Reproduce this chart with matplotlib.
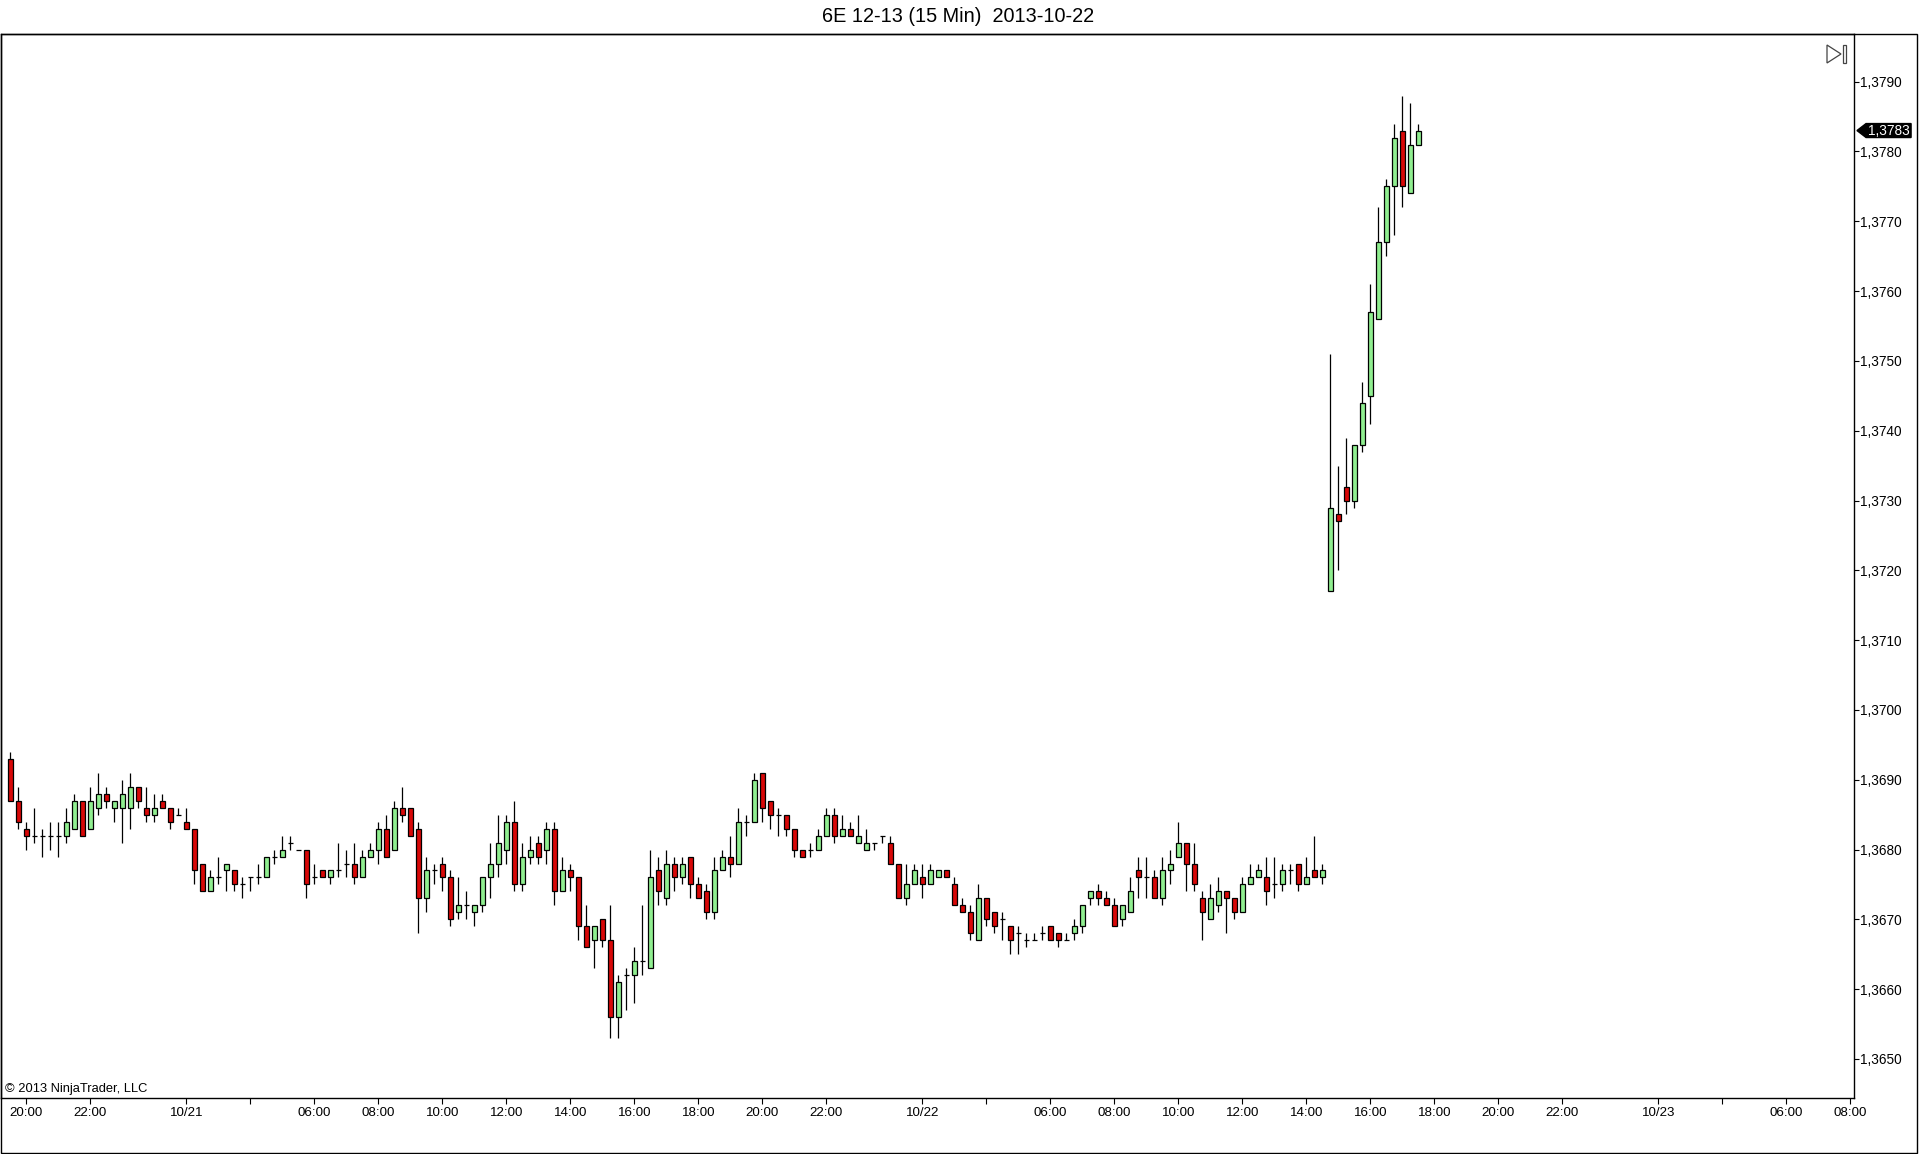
import numpy as np
import matplotlib
matplotlib.use('Agg')
import matplotlib.pyplot as plt
from matplotlib.patches import Polygon, Rectangle
from matplotlib.ticker import MultipleLocator, FuncFormatter

plt.rcParams['font.family'] = ['Liberation Sans', 'DejaVu Sans']

#    Datos: velas de 15 minutos (6E 12-13)

opens = [1.3693, 1.3687, 1.3683, 1.3682, 1.3682, 1.3682, 1.3682, 1.3682, 1.3683, 1.3687,
         1.3683, 1.3686, 1.3688, 1.3686, 1.3686, 1.3686, 1.3689, 1.3686, 1.3685, 1.3687,
         1.3686, 1.3685, 1.3684, 1.3683, 1.3678, 1.3674, 1.3676, 1.3677, 1.3677, 1.3675,
         1.3676, 1.3676, 1.3676, 1.3679, 1.3679, 1.3681, 1.3680, 1.3680, 1.3676, 1.3677,
         1.3676, 1.3677, 1.3678, 1.3678, 1.3676, 1.3679, 1.3680, 1.3683, 1.3680, 1.3686,
         1.3686, 1.3683, 1.3673, 1.3677, 1.3678, 1.3676, 1.3671, 1.3672, 1.3671, 1.3672,
         1.3676, 1.3678, 1.3680, 1.3684, 1.3675, 1.3679, 1.3681, 1.3680, 1.3683, 1.3674,
         1.3677, 1.3676, 1.3669, 1.3667, 1.3670, 1.3667, 1.3656, 1.3662, 1.3662, 1.3664,
         1.3663, 1.3677, 1.3673, 1.3678, 1.3676, 1.3679, 1.3675, 1.3674, 1.3671, 1.3677,
         1.3679, 1.3678, 1.3684, 1.3684, 1.3691, 1.3687, 1.3685, 1.3685, 1.3683, 1.3680,
         1.3680, 1.3680, 1.3682, 1.3685, 1.3682, 1.3683, 1.3681, 1.3680, 1.3681, 1.3682,
         1.3681, 1.3678, 1.3673, 1.3675, 1.3676, 1.3675, 1.3676, 1.3677, 1.3675, 1.3672,
         1.3671, 1.3667, 1.3673, 1.3671, 1.3670, 1.3669, 1.3668, 1.3667, 1.3667, 1.3668,
         1.3669, 1.3668, 1.3667, 1.3668, 1.3669, 1.3673, 1.3674, 1.3673, 1.3672, 1.3670,
         1.3671, 1.3677, 1.3676, 1.3676, 1.3673, 1.3677, 1.3679, 1.3681, 1.3678, 1.3673,
         1.3670, 1.3672, 1.3674, 1.3673, 1.3671, 1.3675, 1.3676, 1.3676, 1.3675, 1.3675,
         1.3677, 1.3678, 1.3675, 1.3677, 1.3676, 1.3717, 1.3728, 1.3732, 1.3730, 1.3738,
         1.3745, 1.3756, 1.3767, 1.3775, 1.3783, 1.3774, 1.3781]

highs = [1.3694, 1.3689, 1.3684, 1.3686, 1.3683, 1.3684, 1.3684, 1.3686, 1.3688, 1.3687,
         1.3689, 1.3691, 1.3689, 1.3687, 1.3690, 1.3691, 1.3689, 1.3689, 1.3688, 1.3688,
         1.3686, 1.3686, 1.3686, 1.3683, 1.3678, 1.3677, 1.3679, 1.3678, 1.3677, 1.3676,
         1.3676, 1.3678, 1.3679, 1.3680, 1.3682, 1.3682, 1.3680, 1.3680, 1.3678, 1.3677,
         1.3677, 1.3681, 1.3680, 1.3681, 1.3680, 1.3681, 1.3684, 1.3685, 1.3687, 1.3689,
         1.3686, 1.3684, 1.3679, 1.3678, 1.3679, 1.3677, 1.3676, 1.3674, 1.3672, 1.3676,
         1.3681, 1.3685, 1.3685, 1.3687, 1.3681, 1.3682, 1.3682, 1.3684, 1.3684, 1.3679,
         1.3678, 1.3676, 1.3672, 1.3669, 1.3670, 1.3672, 1.3662, 1.3663, 1.3666, 1.3672,
         1.3680, 1.3679, 1.3680, 1.3679, 1.3679, 1.3679, 1.3676, 1.3675, 1.3679, 1.3680,
         1.3682, 1.3686, 1.3685, 1.3691, 1.3691, 1.3687, 1.3686, 1.3685, 1.3683, 1.3680,
         1.3681, 1.3683, 1.3686, 1.3686, 1.3685, 1.3684, 1.3685, 1.3683, 1.3681, 1.3682,
         1.3682, 1.3678, 1.3678, 1.3678, 1.3678, 1.3678, 1.3677, 1.3677, 1.3676, 1.3673,
         1.3672, 1.3675, 1.3673, 1.3671, 1.3671, 1.3669, 1.3669, 1.3668, 1.3668, 1.3669,
         1.3669, 1.3668, 1.3668, 1.3670, 1.3672, 1.3674, 1.3675, 1.3674, 1.3673, 1.3672,
         1.3676, 1.3679, 1.3679, 1.3677, 1.3679, 1.3680, 1.3684, 1.3681, 1.3681, 1.3674,
         1.3675, 1.3676, 1.3674, 1.3673, 1.3676, 1.3678, 1.3678, 1.3679, 1.3679, 1.3678,
         1.3678, 1.3678, 1.3679, 1.3682, 1.3678, 1.3751, 1.3735, 1.3739, 1.3738, 1.3747,
         1.3761, 1.3772, 1.3776, 1.3784, 1.3788, 1.3787, 1.3784]

lows = [1.3687, 1.3683, 1.3680, 1.3681, 1.3679, 1.3680, 1.3679, 1.3681, 1.3683, 1.3682,
        1.3683, 1.3685, 1.3686, 1.3684, 1.3681, 1.3683, 1.3686, 1.3684, 1.3684, 1.3686,
        1.3683, 1.3685, 1.3683, 1.3675, 1.3674, 1.3674, 1.3675, 1.3674, 1.3674, 1.3673,
        1.3674, 1.3675, 1.3676, 1.3678, 1.3679, 1.3680, 1.3680, 1.3673, 1.3675, 1.3676,
        1.3675, 1.3676, 1.3676, 1.3675, 1.3676, 1.3679, 1.3678, 1.3679, 1.3680, 1.3684,
        1.3682, 1.3668, 1.3671, 1.3675, 1.3674, 1.3669, 1.3670, 1.3670, 1.3669, 1.3671,
        1.3673, 1.3676, 1.3678, 1.3674, 1.3674, 1.3678, 1.3678, 1.3678, 1.3672, 1.3674,
        1.3674, 1.3667, 1.3666, 1.3663, 1.3666, 1.3653, 1.3653, 1.3657, 1.3658, 1.3662,
        1.3663, 1.3672, 1.3672, 1.3674, 1.3675, 1.3673, 1.3673, 1.3670, 1.3670, 1.3677,
        1.3676, 1.3678, 1.3682, 1.3684, 1.3684, 1.3683, 1.3682, 1.3682, 1.3679, 1.3679,
        1.3679, 1.3680, 1.3682, 1.3681, 1.3682, 1.3682, 1.3681, 1.3680, 1.3680, 1.3681,
        1.3678, 1.3673, 1.3672, 1.3675, 1.3673, 1.3675, 1.3676, 1.3676, 1.3672, 1.3671,
        1.3667, 1.3667, 1.3669, 1.3668, 1.3667, 1.3665, 1.3665, 1.3666, 1.3667, 1.3667,
        1.3667, 1.3666, 1.3667, 1.3667, 1.3668, 1.3672, 1.3672, 1.3672, 1.3669, 1.3669,
        1.3671, 1.3673, 1.3673, 1.3673, 1.3672, 1.3675, 1.3679, 1.3674, 1.3674, 1.3667,
        1.3670, 1.3671, 1.3668, 1.3670, 1.3671, 1.3675, 1.3676, 1.3672, 1.3673, 1.3674,
        1.3675, 1.3674, 1.3675, 1.3676, 1.3675, 1.3717, 1.3720, 1.3728, 1.3729, 1.3737,
        1.3741, 1.3756, 1.3765, 1.3768, 1.3772, 1.3774, 1.3781]

closes = [1.3687, 1.3684, 1.3682, 1.3682, 1.3682, 1.3682, 1.3682, 1.3684, 1.3687, 1.3682,
          1.3687, 1.3688, 1.3687, 1.3687, 1.3688, 1.3689, 1.3687, 1.3685, 1.3686, 1.3686,
          1.3684, 1.3685, 1.3683, 1.3677, 1.3674, 1.3676, 1.3676, 1.3678, 1.3675, 1.3675,
          1.3676, 1.3676, 1.3679, 1.3679, 1.3680, 1.3681, 1.3680, 1.3675, 1.3676, 1.3676,
          1.3677, 1.3677, 1.3678, 1.3676, 1.3679, 1.3680, 1.3683, 1.3679, 1.3686, 1.3685,
          1.3682, 1.3673, 1.3677, 1.3677, 1.3676, 1.3670, 1.3672, 1.3672, 1.3672, 1.3676,
          1.3678, 1.3681, 1.3684, 1.3675, 1.3679, 1.3680, 1.3679, 1.3683, 1.3674, 1.3677,
          1.3676, 1.3669, 1.3666, 1.3669, 1.3667, 1.3656, 1.3661, 1.3662, 1.3664, 1.3664,
          1.3676, 1.3674, 1.3678, 1.3676, 1.3678, 1.3675, 1.3673, 1.3671, 1.3677, 1.3679,
          1.3678, 1.3684, 1.3684, 1.3690, 1.3686, 1.3685, 1.3685, 1.3683, 1.3680, 1.3679,
          1.3680, 1.3682, 1.3685, 1.3682, 1.3683, 1.3682, 1.3682, 1.3681, 1.3681, 1.3682,
          1.3678, 1.3673, 1.3675, 1.3677, 1.3675, 1.3677, 1.3677, 1.3676, 1.3672, 1.3671,
          1.3668, 1.3673, 1.3670, 1.3669, 1.3670, 1.3667, 1.3668, 1.3667, 1.3667, 1.3668,
          1.3667, 1.3667, 1.3667, 1.3669, 1.3672, 1.3674, 1.3673, 1.3672, 1.3669, 1.3672,
          1.3674, 1.3676, 1.3676, 1.3673, 1.3677, 1.3678, 1.3681, 1.3678, 1.3675, 1.3671,
          1.3673, 1.3674, 1.3673, 1.3671, 1.3675, 1.3676, 1.3677, 1.3674, 1.3675, 1.3677,
          1.3677, 1.3675, 1.3676, 1.3676, 1.3677, 1.3729, 1.3727, 1.3730, 1.3738, 1.3744,
          1.3757, 1.3767, 1.3775, 1.3782, 1.3775, 1.3781, 1.3783]

# posiciones de las marcas del eje de tiempo (en indice de barra) y sus etiquetas
time_ticks = [2, 10, 22, 30, 38, 46, 54, 62, 70, 78, 86, 94, 102, 114, 122, 130,
              138, 146, 154, 162, 170, 178, 186, 194, 206, 214, 222, 230]
time_labels = ['20:00', '22:00', '10/21', '', '06:00', '08:00', '10:00', '12:00',
               '14:00', '16:00', '18:00', '20:00', '22:00', '10/22', '', '06:00',
               '08:00', '10:00', '12:00', '14:00', '16:00', '18:00', '20:00', '22:00',
               '10/23', '', '06:00', '08:00']

up_color = '#90EE90'
down_color = '#D80808'

#    Figura

W, H = 1920, 1154
fig = plt.figure(figsize=(W / 100, H / 100), dpi=100)
ax = fig.add_axes([0.5 / W, 56 / H, 1853.5 / W, 1064 / H])

o = np.array(opens)
h = np.array(highs)
l = np.array(lows)
c = np.array(closes)
x = np.arange(len(o))

colors = [up_color if cc > oo else (down_color if cc < oo else 'black') for oo, cc in zip(o, c)]

# mechas y cuerpos
ax.vlines(x, l, h, color='black', linewidth=0.9, zorder=1)
ax.bar(x, np.abs(c - o), bottom=np.minimum(o, c), width=0.6, color=colors,
       edgecolor='black', linewidth=0.9, zorder=2)

ax.set_xlim(-1.225, 230.46)
ax.set_ylim(1.364441, 1.379683)

# eje de precios a la derecha
ax.yaxis.tick_right()
ax.yaxis.set_major_locator(MultipleLocator(0.001))
ax.yaxis.set_major_formatter(FuncFormatter(lambda v, pos: f'{v:.4f}'.replace('.', ',')))
ax.tick_params(axis='y', direction='out', length=3.6, width=0.8, pad=1, labelsize=9.8)

ax.set_xticks(time_ticks)
ax.set_xticklabels(time_labels)
ax.tick_params(axis='x', direction='out', length=4.3, width=0.8, pad=2, labelsize=9.6)

for s in ax.spines.values():
    s.set_linewidth(1.0)
    s.set_color('black')

# marcador del ultimo precio
last = closes[-1]
half = 0.0001
tag = Polygon([(1.0016, last), (1.0065, last + half), (1.0308, last + half),
               (1.0308, last - half), (1.0065, last - half)],
              closed=True, facecolor='black', edgecolor='black',
              transform=ax.get_yaxis_transform(), clip_on=False, zorder=5)
ax.add_patch(tag)
ax.text(1.0188, last, f'{last:.4f}'.replace('.', ','), color='white', fontsize=9.8,
        ha='center', va='center', transform=ax.get_yaxis_transform(), zorder=6)

# texto de copyright
ax.text(0.0022, 0.0088, '\u00a9 2013 NinjaTrader, LLC', fontsize=9.3,
        ha='left', va='center', transform=ax.transAxes)

# titulo
fig.text(958 / W, 1 - 16 / H, '6E 12-13 (15 Min)  2013-10-22', fontsize=14.3,
         ha='center', va='center')

# marco exterior
fig.patches.append(Rectangle((0.5 / W, 1.5 / H), 1916.5 / W, 1118.5 / H, fill=False,
                             edgecolor='black', linewidth=1.0, transform=fig.transFigure))

# icono de la esquina superior derecha
fig.patches.append(Polygon([(1827 / W, 1 - 45 / H), (1827 / W, 1 - 63 / H), (1841 / W, 1 - 54 / H)],
                           closed=True, fill=False, edgecolor='#444444', linewidth=0.9,
                           transform=fig.transFigure))
fig.patches.append(Rectangle((1843 / W, 1 - 63 / H), 3 / W, 18 / H, fill=False,
                             edgecolor='#444444', linewidth=0.9, transform=fig.transFigure))

fig.savefig('out.png', dpi=100)
